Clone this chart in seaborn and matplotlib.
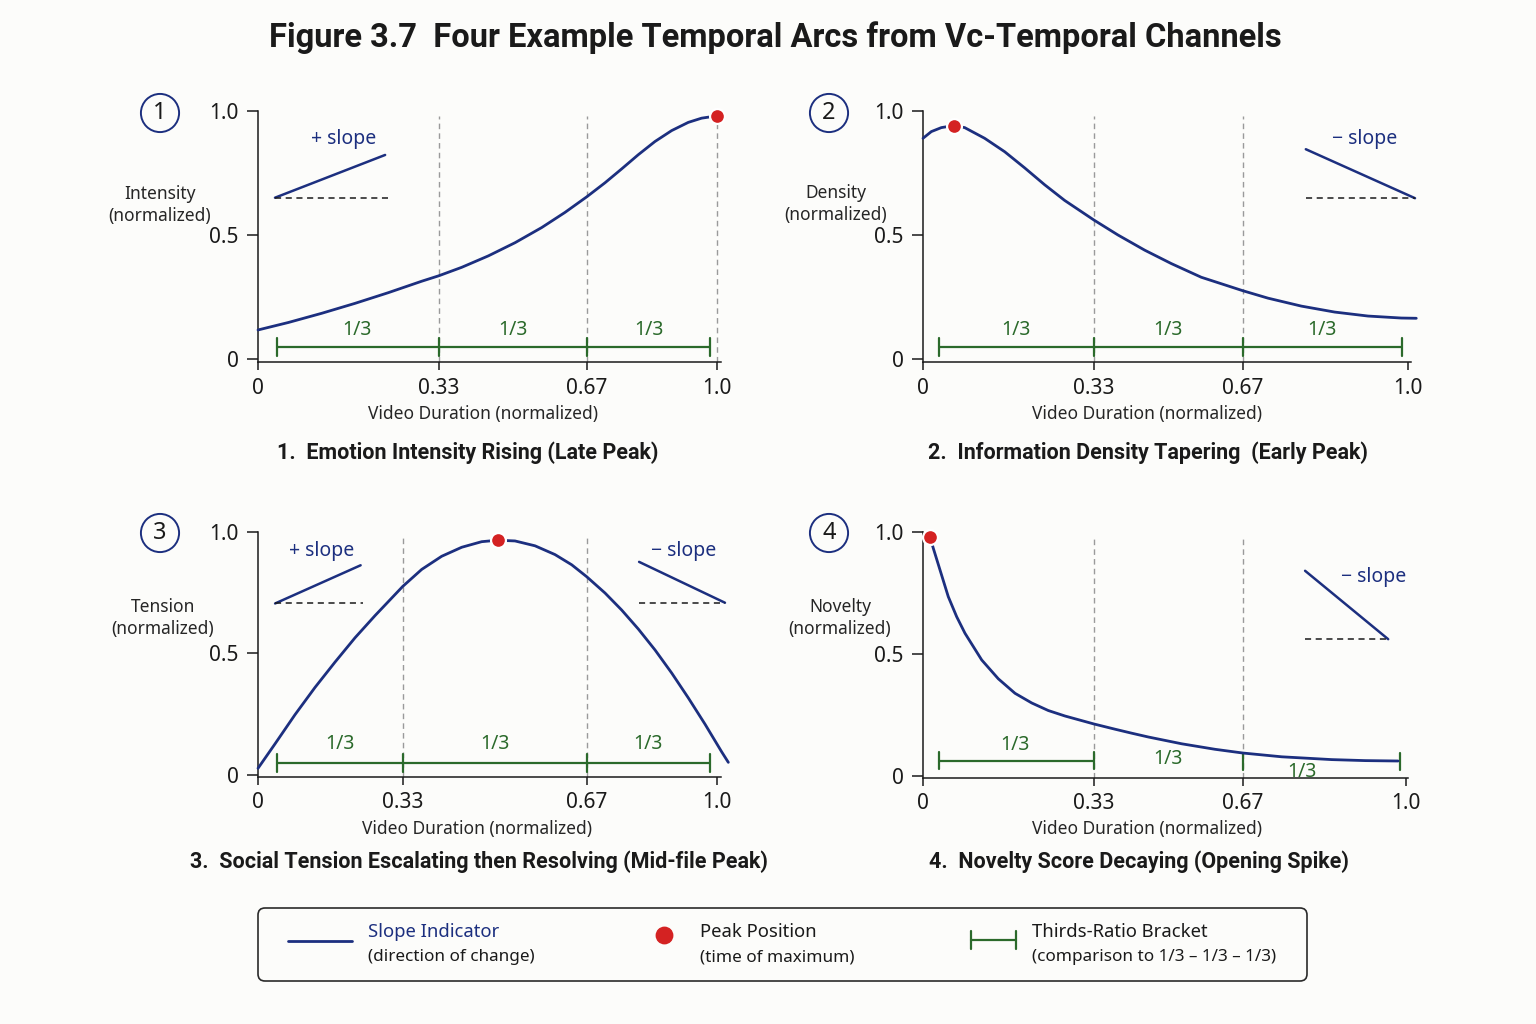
import numpy as np
import pandas as pd
import matplotlib
matplotlib.use("Agg")
import matplotlib.pyplot as plt
import seaborn as sns
from matplotlib.patches import FancyBboxPatch
from matplotlib.lines import Line2D

# ---------------- data (normalized time, normalized value) ----------------
p1_t = [0, 0.0553, 0.1162, 0.177, 0.2378, 0.2987, 0.33, 0.3826, 0.4437, 0.505, 0.5663,
        0.6198, 0.67, 0.716, 0.7585, 0.8007, 0.843, 0.8855, 0.9277, 0.9617, 1.0]
p1_y = [0.118, 0.148, 0.185, 0.225, 0.268, 0.314, 0.336, 0.370, 0.416, 0.469, 0.530,
        0.591, 0.654, 0.710, 0.766, 0.823, 0.876, 0.920, 0.953, 0.970, 0.979]

p2_t = [0, 0.0161, 0.0354, 0.0592, 0.0804, 0.119, 0.1576, 0.1962, 0.2348, 0.2734, 0.33,
        0.3848, 0.4459, 0.5068, 0.5753, 0.67, 0.7204, 0.787, 0.8536, 0.9201, 0.9866, 1.0165]
p2_y = [0.889, 0.916, 0.932, 0.940, 0.932, 0.889, 0.835, 0.770, 0.702, 0.639, 0.560,
        0.500, 0.439, 0.385, 0.330, 0.276, 0.246, 0.214, 0.190, 0.174, 0.166, 0.165]

p3_t = [0, 0.0388, 0.0844, 0.130, 0.1756, 0.2212, 0.2668, 0.33, 0.3651, 0.402, 0.439,
        0.476, 0.5056, 0.5375, 0.5745, 0.6114, 0.6423, 0.67, 0.7165, 0.7588, 0.801,
        0.8434, 0.8858, 0.9279, 0.9703, 1.0127, 1.0295]
p3_y = [0.0275, 0.128, 0.248, 0.360, 0.464, 0.564, 0.655, 0.775, 0.845, 0.899, 0.936,
        0.959, 0.965, 0.962, 0.942, 0.906, 0.864, 0.815, 0.748, 0.678, 0.600,
        0.514, 0.419, 0.317, 0.209, 0.095, 0.052]

p4_t = [0.0135, 0.0199, 0.0488, 0.065, 0.0811, 0.1133, 0.1453, 0.1776, 0.2098, 0.2418,
        0.274, 0.33, 0.378, 0.4163, 0.4543, 0.5306, 0.6067, 0.67, 0.7487, 0.85, 0.9174, 0.984]
p4_y = [0.980, 0.932, 0.734, 0.652, 0.584, 0.475, 0.398, 0.3385, 0.299, 0.268,
        0.2456, 0.2129, 0.1916, 0.1752, 0.1596, 0.1318, 0.1093, 0.0941, 0.0786, 0.0671,
        0.063, 0.0614]

peak_t = [1.0, 0.0592, 0.5056, 0.0135]
peak_y = [0.979, 0.940, 0.965, 0.980]

thirds = [0.33, 0.67]
x_ticks = [0, 0.33, 0.67, 1.0]
x_ticklabels = ["0", "0.33", "0.67", "1.0"]
y_ticks = [0, 0.5, 1.0]
y_ticklabels = ["0", "0.5", "1.0"]

panel_numbers = ["1", "2", "3", "4"]
y_labels = ["Intensity\n(normalized)", "Density\n(normalized)",
            "Tension\n(normalized)", "Novelty\n(normalized)"]
x_label = "Video Duration (normalized)"
subtitles = ["1.  Emotion Intensity Rising (Late Peak)",
             "2.  Information Density Tapering  (Early Peak)",
             "3.  Social Tension Escalating then Resolving (Mid-file Peak)",
             "4.  Novelty Score Decaying (Opening Spike)"]
title = "Figure 3.7  Four Example Temporal Arcs from Vc-Temporal Channels"
bracket_label = "1/3"
legend_titles = ["Slope Indicator", "Peak Position", "Thirds-Ratio Bracket"]
legend_subs = ["(direction of change)", "(time of maximum)",
               "(comparison to 1/3 \u2013 1/3 \u2013 1/3)"]

# ---------------- style ----------------
NAVY = "#1c2f7f"
RED = "#d42222"
GREEN = "#2b6a2b"
GRAY = "#9a9a9a"
BG = "#fcfcfa"
TXT = "#1a1a1a"
BOLD_FAMILY = ["Roboto", "DejaVu Sans"]

sns.set_theme(style="ticks")
plt.rcParams["font.family"] = ["Noto Sans", "DejaVu Sans"]
plt.rcParams["axes.facecolor"] = "none"
plt.rcParams["figure.facecolor"] = BG
plt.rcParams["text.color"] = TXT
plt.rcParams["axes.edgecolor"] = TXT
plt.rcParams["xtick.color"] = TXT
plt.rcParams["ytick.color"] = TXT

W, H = 1536, 1024
fig = plt.figure(figsize=(W / 100, H / 100), dpi=100)

# layout of each panel in pixels: left, x(1.0), y(0), y(1.0), display pos of 0.33 & 0.67, xmax, ymin
layouts = [
    dict(left=258, right1=716.7, y0=359.3, y1=110.7, d1=0.3942, d2=0.717, xmax=1.01, ymin=-0.012),
    dict(left=923, right1=1408, y0=359.3, y1=110.7, d1=0.3526, d2=0.6592, xmax=1.005, ymin=-0.012),
    dict(left=258, right1=716.7, y0=775, y1=531.7, d1=0.3155, d2=0.7166, xmax=1.01, ymin=-0.008),
    dict(left=923, right1=1406, y0=776, y1=531.7, d1=0.354, d2=0.662, xmax=1.005, ymin=-0.008),
]
circle_px = [(160, 113), (829, 113), (160, 533), (829, 533)]
ylabel_px = [(160, 205), (836, 204), (163, 618), (840, 618)]
xlabel_px = [(483, 414), (1147, 414), (477, 829), (1147, 829)]
subtitle_px = [(468, 453), (1148, 453), (479, 862), (1139, 862)]


def make_scale(d1, d2):
    T = np.array([-1.0, 0.0, 0.33, 0.67, 1.0, 2.0])
    F = np.array([-d1 / 0.33, 0.0, d1, d2, 1.0, 1.0 + (1 - d2) / 0.33])
    return (lambda t: np.interp(t, T, F)), (lambda f: np.interp(f, F, T))


curves = [(p1_t, p1_y), (p2_t, p2_y), (p3_t, p3_y), (p4_t, p4_y)]

# slope indicators: (text, text_t, text_y, line (t0,y0,t1,y1), dashed ref (t0,t1,y))
slopes = [
    [("+ slope", 0.156, 0.885, (0.031, 0.65, 0.232, 0.822), (0.031, 0.238, 0.65))],
    [("\u2212 slope", 0.914, 0.885, (0.796, 0.845, 1.014, 0.648), (0.796, 1.014, 0.65))],
    [("+ slope", 0.145, 0.921, (0.039, 0.705, 0.234, 0.862), (0.039, 0.240, 0.705)),
     ("\u2212 slope", 0.915, 0.921, (0.803, 0.876, 1.021, 0.708), (0.803, 1.021, 0.708))],
    [("\u2212 slope", 0.934, 0.813, (0.796, 0.840, 0.964, 0.56), (0.796, 0.964, 0.56))],
]

# thirds brackets
brackets = [
    dict(y=0.051, segs=[(0.034, 0.33), (0.33, 0.67), (0.67, 0.984)],
         ticks=[0.034, 0.33, 0.67, 0.984], labels=[(0.18, 0.118), (0.50, 0.118), (0.827, 0.118)]),
    dict(y=0.051, segs=[(0.031, 0.33), (0.33, 0.67), (0.67, 0.988)],
         ticks=[0.031, 0.33, 0.67, 0.988], labels=[(0.18, 0.118), (0.50, 0.118), (0.829, 0.118)]),
    dict(y=0.05, segs=[(0.043, 0.33), (0.33, 0.67), (0.67, 0.983)],
         ticks=[0.043, 0.33, 0.67, 0.983], labels=[(0.186, 0.127), (0.50, 0.127), (0.826, 0.127)]),
    dict(y=0.063, segs=[(0.031, 0.33)],
         ticks=[0.031, 0.33, 0.67, 0.988], labels=[(0.178, 0.127), (0.50, 0.068), (0.789, 0.018)]),
]
dashed_top = 0.98
dashed_extra = [[1.0], [], [], []]

for i in range(4):
    L = layouts[i]
    fwd, inv = make_scale(L["d1"], L["d2"])
    fmax = float(fwd(L["xmax"]))
    wpx = (L["right1"] - L["left"]) * fmax
    upx = L["y0"] - L["y1"]
    bottom_px = L["y0"] - L["ymin"] * upx
    top_px = L["y0"] - 1.0 * upx
    ax = fig.add_axes([L["left"] / W, 1 - bottom_px / H, wpx / W, (bottom_px - top_px) / H])
    ax.set_xscale("function", functions=(fwd, inv))
    ax.set_xlim(0, L["xmax"])
    ax.set_ylim(L["ymin"], 1.0)
    sns.despine(ax=ax)
    for sp in ["left", "bottom"]:
        ax.spines[sp].set_linewidth(1.1)

    # dashed guides
    for xv in thirds + dashed_extra[i]:
        ax.vlines(xv, L["ymin"], dashed_top, colors=GRAY, linestyles=(0, (4, 3)), lw=1.0, zorder=1)

    # thirds bracket
    b = brackets[i]
    for (s0, s1) in b["segs"]:
        ax.plot([s0, s1], [b["y"], b["y"]], color=GREEN, lw=1.6, zorder=2, solid_capstyle="butt")
    for tk in b["ticks"]:
        yc = b["y"] if i != 3 or tk < 0.5 else b["y"] - 0.004
        ax.plot([tk, tk], [yc - 0.036, yc + 0.036], color=GREEN, lw=1.6, zorder=2, clip_on=False)
    for (lt, ly) in b["labels"]:
        ax.text(lt, ly, bracket_label, color=GREEN, fontsize=14, ha="center", va="center", zorder=2)

    # curve
    t, y = curves[i]
    df = pd.DataFrame({"t": t, "y": y})
    sns.lineplot(data=df, x="t", y="y", ax=ax, color=NAVY, lw=2.0, sort=False,
                 estimator=None, zorder=3, clip_on=False)

    # peak
    sns.scatterplot(x=[peak_t[i]], y=[peak_y[i]], ax=ax, s=115, color=RED, edgecolor="white",
                    linewidth=1.6, zorder=5, clip_on=False)

    # slope indicators
    for (txt, tt, ty, ln, ref) in slopes[i]:
        ax.plot([ln[0], ln[2]], [ln[1], ln[3]], color=NAVY, lw=1.8, zorder=3, clip_on=False)
        ax.plot([ref[0], ref[1]], [ref[2], ref[2]], color=TXT, lw=1.1, ls=(0, (4, 3)),
                zorder=3, clip_on=False)
        ax.text(tt, ty, txt, color=NAVY, fontsize=14, ha="center", va="center")

    # ticks
    ax.set_xticks(x_ticks, x_ticklabels)
    ax.set_yticks(y_ticks, y_ticklabels)
    ax.tick_params(axis="y", length=8, width=1.1, pad=6, labelsize=15)
    ax.tick_params(axis="x", length=6, width=1.1, pad=5, labelsize=15)
    ax.minorticks_off()

    inv_tr = ax.transAxes.inverted()

    def to_ax(px, py):
        return inv_tr.transform((px, H - py))

    # labels
    ax.set_xlabel(x_label, fontsize=12.5)
    ax.xaxis.set_label_coords(*to_ax(*xlabel_px[i]))
    ax.xaxis.label.set_va("center")
    ax.set_ylabel(y_labels[i], fontsize=12.5, rotation=0, ha="center", va="center",
                  linespacing=1.3)
    ax.yaxis.set_label_coords(*to_ax(*ylabel_px[i]))

    cx, cy = to_ax(*circle_px[i])
    ax.text(cx, cy, panel_numbers[i], transform=ax.transAxes, ha="center", va="center",
            fontsize=17, color=TXT,
            bbox=dict(boxstyle="circle,pad=0.3", fc="none", ec=NAVY, lw=1.4))

    sx, sy = subtitle_px[i]
    fig.text(sx / W, 1 - sy / H, subtitles[i], ha="center", va="center", fontsize=15.5,
             fontweight="bold", family=BOLD_FAMILY, color=TXT)

fig.text(775 / W, 1 - 38 / H, title, ha="center", va="center", fontsize=23.5,
         fontweight="bold", family=BOLD_FAMILY, color=TXT)

# ---------------- legend panel ----------------
lax = fig.add_axes([0, 0, 1, 1], zorder=-1)
lax.set_xlim(0, W)
lax.set_ylim(H, 0)
lax.axis("off")
lax.add_patch(FancyBboxPatch((258, 908), 1049, 73, boxstyle="round,pad=0,rounding_size=7",
                             fc="none", ec="#2a2a2a", lw=1.2))
lax.add_line(Line2D([288, 352], [941, 941], color=NAVY, lw=2.0))
lax.scatter([664], [935], s=140, color=RED, zorder=3)
lax.add_line(Line2D([971, 1016], [940, 940], color=GREEN, lw=1.6))
lax.add_line(Line2D([971, 971], [931, 949], color=GREEN, lw=1.6))
lax.add_line(Line2D([1016, 1016], [931, 949], color=GREEN, lw=1.6))
for x0, ttl, sub, col in zip([368, 700, 1032], legend_titles, legend_subs, [NAVY, TXT, TXT]):
    lax.text(x0, 932, ttl, color=col, fontsize=13.3, ha="left", va="center")
    lax.text(x0, 957, sub, color=TXT, fontsize=12.3, ha="left", va="center")

fig.savefig("out.png", dpi=100, facecolor=BG)
